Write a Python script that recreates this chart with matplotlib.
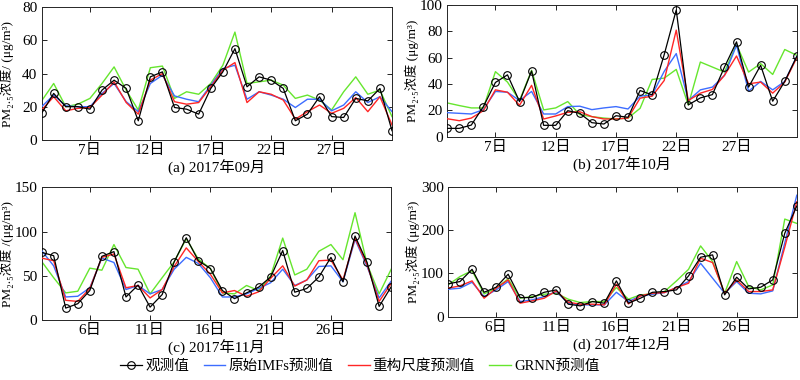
import numpy as np
import matplotlib
matplotlib.use("Agg")
import matplotlib.pyplot as plt

plt.rcParams['font.family'] = ['Liberation Serif', 'Noto Sans CJK SC', 'DejaVu Sans']
plt.rcParams['font.size'] = 11

# -----------------------------------------------------------------------------
# Data (PM2.5, ug/m3), 30 days per month
# -----------------------------------------------------------------------------
sep_obs = [16, 28, 20, 20, 18.5, 30, 36, 31, 11.5, 38, 41, 19.5, 18.5, 15.5, 31,
           41, 55, 32, 38, 36, 31, 11.5, 15.5, 26, 14, 13.5, 25, 23.5, 31, 5.5]
sep_imf = [20, 27, 20.5, 20, 20, 28, 34, 23, 17, 34, 39, 26.5, 24.5, 23, 33,
           43, 45, 24.5, 29, 27, 24.5, 19.5, 24.5, 24.5, 17.5, 21, 29, 22.5, 26, 17]
sep_rec = [18, 26, 17.5, 19, 19.5, 27, 35, 22.5, 15.5, 36, 40, 23, 21.5, 22.5, 32,
           42, 46.6, 22.5, 29, 27.5, 24, 12.5, 17, 21, 16, 19, 25.5, 17, 26, 9]
sep_grnn = [23.5, 34, 20, 21.5, 25, 34, 44, 30, 18, 43.5, 44.5, 25, 29, 27.5, 34,
            45, 65, 34, 35, 36, 33, 25, 27, 24, 18, 29, 38, 27.5, 30, 14]

oct_obs = [6.4, 6.4, 8.9, 22.9, 41.2, 47, 26.7, 49.9, 8.7, 8.7, 19.8, 17.8, 10.7, 9.7, 16,
           14.8, 35.1, 31.8, 62.3, 96.2, 24.2, 29.5, 32, 52.9, 72, 37.7, 54.2, 27, 42, 61]
oct_imf = [18.3, 17.8, 17.3, 20.6, 34.4, 33.8, 27.5, 34.4, 17.3, 17.3, 22.9, 23.2, 20.6, 21.9, 22.9,
           21.1, 30.8, 31.8, 49.6, 63.1, 27.5, 35.6, 37.7, 46.6, 69.5, 34.6, 42, 35.6, 42, 61]
oct_rec = [13.7, 12.2, 14.2, 19.8, 35.6, 33.8, 23.9, 39, 13.5, 15.8, 18.6, 19, 15.3, 13.5, 13.5,
           14.2, 29.3, 30.8, 42.7, 80.9, 27.5, 33.1, 35.9, 46.6, 61.3, 40.2, 41.5, 33.1, 41.5, 60]
oct_grnn = [25.7, 23.7, 21.9, 21.9, 49.4, 41.5, 27.5, 50.4, 20.4, 21.9, 26.7, 16.8, 15.3, 14.2, 13.5,
            14.2, 21.6, 43.5, 44.5, 51.1, 24.2, 56.7, 52.9, 49.1, 70, 49.1, 55.5, 47.3, 66.2, 61.8]

nov_obs = [76.5, 72.7, 13.4, 18.4, 33.3, 72, 77.3, 26, 39.4, 14.5, 28.7, 65.8, 93, 67, 58.2,
           33.3, 24.1, 30.6, 37.1, 48.6, 78.5, 31.4, 35.6, 48.6, 70.8, 43.2, 94.9, 65, 15.3, 37.5]
nov_imf = [78.5, 61.2, 26, 26.8, 36.4, 70, 65, 34.4, 39, 29.5, 34.4, 57.4, 70.8, 63.9, 47.8,
           26, 26, 29.5, 35.6, 42.1, 57.4, 39, 45.2, 60.5, 61.2, 43.2, 91.1, 60.5, 24.9, 44]
nov_rec = [70, 67, 22.2, 21, 35.6, 70.8, 74.6, 36.4, 39, 24.9, 34.4, 60.5, 81.5, 66.2, 51.7,
           30.6, 33.3, 26.8, 31.8, 47.1, 61.2, 38.3, 45.2, 67, 67.7, 45.2, 92.6, 62.4, 21, 41.3]
nov_grnn = [66.2, 47.8, 30.6, 32.5, 58.6, 56.3, 85.3, 59.3, 57.4, 29.5, 47.8, 65.8, 91.9, 68.9, 58.2,
            30.6, 29.5, 39, 33.3, 49.8, 92.6, 50.9, 57.4, 77.7, 85.3, 68.1, 121.3, 63.1, 29.5, 57.4]

dec_obs = [75.4, 80.8, 109, 56, 67.7, 97.7, 43.8, 43.8, 56, 61.5, 28.5, 24.6, 34.6, 30.8, 82.3,
           30.8, 42.3, 56, 57.7, 61.5, 93.8, 136.9, 142.3, 50, 90.8, 63.8, 67.7, 84.6, 192.3, 255]
dec_imf = [63, 65.4, 79.2, 46, 61.5, 80.8, 34.6, 38.5, 46, 57.7, 30.8, 27, 27, 27, 56,
           34.6, 47.7, 51.5, 55.4, 66.9, 80.8, 123, 88.5, 53.8, 80.8, 53.8, 52.3, 59.2, 170, 280]
dec_rec = [65.4, 70.8, 82.3, 42.3, 65.4, 84.6, 30.8, 36.2, 42.3, 59.2, 33, 28.5, 28.5, 27, 74.6,
           29.2, 47.7, 53.8, 55.4, 66.9, 76.9, 134.6, 124.6, 53.8, 84.6, 57.7, 57.7, 61.5, 160, 265]
dec_grnn = [73, 92.3, 106, 52.3, 65.4, 87, 42.3, 46, 51.5, 53.8, 40, 32.3, 34.6, 34.6, 67,
            40, 50, 52.3, 57.7, 82.3, 109, 163, 126.9, 53.8, 126.9, 69.2, 61.5, 73, 225, 215]

tick_pos = [5, 10, 15, 20, 25]
labels_a = ["7日", "12日", "17日", "22日", "27日"]
labels_c = ["6日", "11日", "16日", "21日", "26日"]

series_names = ["观测值", "原始IMFs预测值", "重构尺度预测值", "GRNN预测值"]
colors = ["black", "#3d6dff", "#ff2626", "#66e62e"]

PANELS = [
    {"rect": [0.052, 0.632, 0.438, 0.349], "data": (sep_obs, sep_imf, sep_rec, sep_grnn),
     "ymax": 80, "yticks": [0, 20, 40, 60, 80], "xt": labels_a,
     "ylabel": "PM₂.₅浓度/ (μg/m³)", "title": "(a) 2017年09月"},
    {"rect": [0.559, 0.640, 0.437, 0.347], "data": (oct_obs, oct_imf, oct_rec, oct_grnn),
     "ymax": 100, "yticks": [0, 20, 40, 60, 80, 100], "xt": labels_a,
     "ylabel": "PM₂.₅浓度 (μg/m³)", "title": "(b) 2017年10月"},
    {"rect": [0.052, 0.158, 0.437, 0.349], "data": (nov_obs, nov_imf, nov_rec, nov_grnn),
     "ymax": 150, "yticks": [0, 50, 100, 150], "xt": labels_c,
     "ylabel": "PM₂.₅浓度 /(μg/m³)", "title": "(c) 2017年11月"},
    {"rect": [0.560, 0.167, 0.436, 0.342], "data": (dec_obs, dec_imf, dec_rec, dec_grnn),
     "ymax": 300, "yticks": [0, 100, 200, 300], "xt": labels_c,
     "ylabel": "PM₂.₅浓度 (μg/m³)", "title": "(d) 2017年12月"},
]

fig = plt.figure(figsize=(8, 3.8), dpi=100)

handles = None
for p in PANELS:
    ax = fig.add_axes(p["rect"])
    obs, imf, rec, grnn = p["data"]
    x = np.arange(1, len(obs) + 1)
    h_g, = ax.plot(x, grnn, color=colors[3], lw=1.0, zorder=2)
    h_b, = ax.plot(x, imf, color=colors[1], lw=1.0, zorder=3)
    h_r, = ax.plot(x, rec, color=colors[2], lw=1.0, zorder=4)
    h_k, = ax.plot(x, obs, color=colors[0], lw=0.9, marker="o", markersize=5.5,
                   markerfacecolor="none", markeredgewidth=0.8, zorder=5)
    if handles is None:
        handles = [h_k, h_b, h_r, h_g]
    ax.set_xlim(1, 30)
    ax.set_ylim(0, p["ymax"])
    ax.set_yticks(p["yticks"])
    ax.set_xticks(tick_pos)
    ax.set_xticklabels(p["xt"])
    ax.tick_params(direction="in", top=True, right=True, length=3.5, width=0.6,
                   labelsize=11, pad=3)
    for s in ax.spines.values():
        s.set_linewidth(0.7)
        s.set_color("0.15")
    ax.set_ylabel(p["ylabel"], fontsize=9.5)
    # rotated label sits ~28 px left of each axes' left spine
    ax.yaxis.set_label_coords(-28 / (p["rect"][2] * 800), 0.5)
    ax.set_xlabel(p["title"], fontsize=11, labelpad=2)

fig.legend(handles, series_names, loc="center", bbox_to_anchor=(360 / 800, 1 - 366 / 380),
           ncol=4, frameon=False, fontsize=10.5, handlelength=1.5, handletextpad=0.2,
           columnspacing=1.0)

fig.savefig("out.png", dpi=100)
